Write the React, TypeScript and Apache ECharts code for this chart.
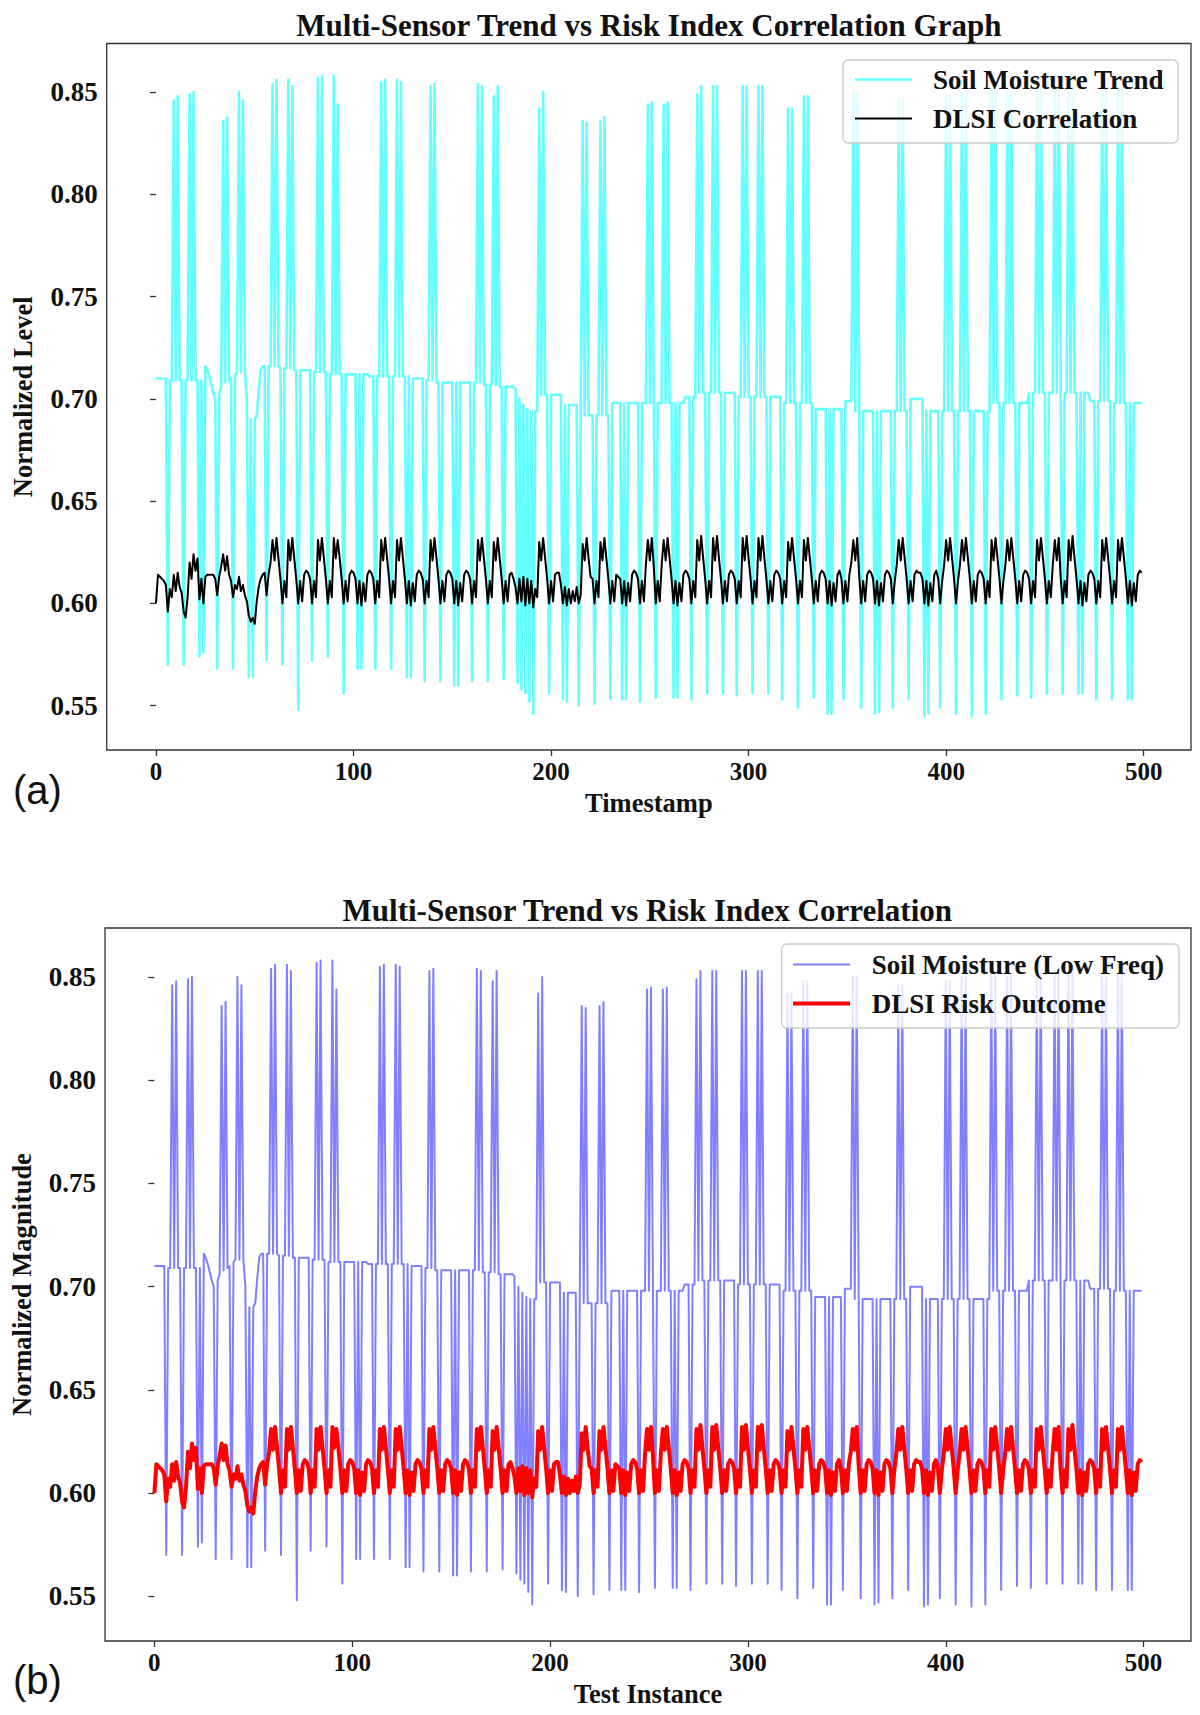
import React, { useEffect, useRef } from "react";
import * as echarts from "echarts";

// Soil moisture readings, one value per sample (0..499)
const soilMoisture: number[] = [
  0.710, 0.710, 0.710, 0.710, 0.710, 0.710, 0.570, 0.709, 0.709, 0.846,
  0.709, 0.848, 0.709, 0.709, 0.570, 0.709, 0.709, 0.849, 0.709, 0.850,
  0.709, 0.709, 0.574, 0.709, 0.576, 0.716, 0.714, 0.711, 0.707, 0.703,
  0.700, 0.568, 0.703, 0.706, 0.836, 0.708, 0.838, 0.709, 0.710, 0.568,
  0.712, 0.713, 0.850, 0.713, 0.846, 0.713, 0.700, 0.564, 0.690, 0.564,
  0.690, 0.692, 0.704, 0.714, 0.716, 0.716, 0.572, 0.716, 0.716, 0.854,
  0.716, 0.856, 0.716, 0.715, 0.570, 0.715, 0.715, 0.856, 0.715, 0.853,
  0.714, 0.714, 0.548, 0.714, 0.714, 0.714, 0.714, 0.714, 0.714, 0.572,
  0.713, 0.713, 0.857, 0.713, 0.858, 0.713, 0.713, 0.574, 0.712, 0.712,
  0.858, 0.712, 0.844, 0.712, 0.712, 0.556, 0.712, 0.712, 0.712, 0.712,
  0.712, 0.712, 0.568, 0.712, 0.568, 0.712, 0.712, 0.712, 0.711, 0.711,
  0.711, 0.568, 0.711, 0.711, 0.855, 0.711, 0.856, 0.711, 0.711, 0.568,
  0.711, 0.711, 0.856, 0.711, 0.855, 0.711, 0.711, 0.564, 0.711, 0.564,
  0.710, 0.710, 0.710, 0.710, 0.710, 0.710, 0.562, 0.709, 0.709, 0.853,
  0.709, 0.854, 0.708, 0.708, 0.562, 0.708, 0.708, 0.708, 0.708, 0.708,
  0.708, 0.560, 0.708, 0.560, 0.708, 0.708, 0.708, 0.708, 0.708, 0.708,
  0.562, 0.708, 0.708, 0.854, 0.708, 0.853, 0.707, 0.707, 0.562, 0.707,
  0.707, 0.848, 0.707, 0.853, 0.706, 0.706, 0.563, 0.706, 0.706, 0.706,
  0.706, 0.706, 0.705, 0.561, 0.700, 0.558, 0.697, 0.556, 0.695, 0.552,
  0.694, 0.546, 0.694, 0.694, 0.842, 0.702, 0.850, 0.702, 0.702, 0.556,
  0.702, 0.702, 0.702, 0.702, 0.702, 0.702, 0.553, 0.697, 0.552, 0.697,
  0.697, 0.697, 0.697, 0.697, 0.550, 0.692, 0.836, 0.692, 0.835, 0.692,
  0.692, 0.692, 0.551, 0.692, 0.692, 0.836, 0.692, 0.838, 0.692, 0.692,
  0.553, 0.698, 0.698, 0.698, 0.698, 0.698, 0.553, 0.698, 0.553, 0.698,
  0.698, 0.698, 0.698, 0.698, 0.698, 0.552, 0.698, 0.698, 0.698, 0.844,
  0.698, 0.845, 0.698, 0.554, 0.698, 0.698, 0.698, 0.844, 0.698, 0.845,
  0.698, 0.698, 0.554, 0.698, 0.554, 0.698, 0.698, 0.698, 0.701, 0.701,
  0.701, 0.553, 0.701, 0.701, 0.849, 0.703, 0.853, 0.703, 0.703, 0.556,
  0.703, 0.703, 0.853, 0.703, 0.853, 0.703, 0.703, 0.556, 0.703, 0.703,
  0.703, 0.703, 0.703, 0.703, 0.555, 0.701, 0.701, 0.853, 0.701, 0.853,
  0.701, 0.701, 0.556, 0.701, 0.701, 0.853, 0.701, 0.853, 0.701, 0.701,
  0.556, 0.701, 0.701, 0.701, 0.701, 0.701, 0.701, 0.553, 0.698, 0.698,
  0.842, 0.698, 0.842, 0.698, 0.698, 0.549, 0.698, 0.698, 0.848, 0.698,
  0.848, 0.698, 0.698, 0.554, 0.695, 0.695, 0.695, 0.695, 0.695, 0.695,
  0.546, 0.695, 0.546, 0.695, 0.695, 0.695, 0.695, 0.695, 0.553, 0.699,
  0.699, 0.699, 0.699, 0.850, 0.694, 0.850, 0.694, 0.549, 0.694, 0.694,
  0.694, 0.694, 0.694, 0.694, 0.546, 0.694, 0.547, 0.694, 0.694, 0.694,
  0.694, 0.694, 0.694, 0.549, 0.694, 0.694, 0.846, 0.694, 0.846, 0.694,
  0.694, 0.553, 0.700, 0.700, 0.700, 0.700, 0.700, 0.700, 0.700, 0.545,
  0.694, 0.546, 0.694, 0.694, 0.694, 0.694, 0.694, 0.549, 0.694, 0.694,
  0.848, 0.694, 0.848, 0.694, 0.694, 0.546, 0.694, 0.694, 0.850, 0.694,
  0.850, 0.694, 0.694, 0.545, 0.694, 0.694, 0.694, 0.694, 0.694, 0.694,
  0.546, 0.694, 0.694, 0.852, 0.698, 0.852, 0.698, 0.698, 0.553, 0.698,
  0.698, 0.850, 0.698, 0.850, 0.698, 0.698, 0.555, 0.698, 0.698, 0.698,
  0.698, 0.698, 0.703, 0.554, 0.703, 0.703, 0.852, 0.703, 0.852, 0.703,
  0.703, 0.556, 0.703, 0.703, 0.703, 0.853, 0.703, 0.853, 0.703, 0.556,
  0.703, 0.703, 0.852, 0.703, 0.852, 0.703, 0.703, 0.556, 0.703, 0.556,
  0.703, 0.703, 0.703, 0.699, 0.699, 0.699, 0.553, 0.699, 0.699, 0.850,
  0.699, 0.850, 0.699, 0.699, 0.553, 0.698, 0.698, 0.852, 0.698, 0.852,
  0.698, 0.698, 0.553, 0.698, 0.553, 0.698, 0.698, 0.698, 0.698, 0.698,
];

// DLSI risk index, one value per sample (0..499)
const dlsiIndex: number[] = [
  0.600, 0.614, 0.613, 0.612, 0.611, 0.609, 0.596, 0.607, 0.603, 0.614,
  0.606, 0.615, 0.608, 0.605, 0.596, 0.593, 0.603, 0.620, 0.612, 0.624,
  0.616, 0.622, 0.602, 0.612, 0.600, 0.613, 0.614, 0.614, 0.614, 0.614,
  0.612, 0.604, 0.613, 0.618, 0.624, 0.616, 0.623, 0.614, 0.611, 0.603,
  0.609, 0.607, 0.613, 0.606, 0.609, 0.604, 0.601, 0.594, 0.591, 0.593,
  0.590, 0.601, 0.608, 0.612, 0.614, 0.615, 0.604, 0.614, 0.620, 0.631,
  0.621, 0.632, 0.622, 0.612, 0.600, 0.611, 0.603, 0.631, 0.621, 0.632,
  0.622, 0.612, 0.600, 0.611, 0.601, 0.614, 0.616, 0.615, 0.612, 0.600,
  0.611, 0.603, 0.631, 0.621, 0.632, 0.622, 0.612, 0.600, 0.611, 0.603,
  0.632, 0.622, 0.631, 0.622, 0.612, 0.600, 0.611, 0.601, 0.614, 0.616,
  0.615, 0.612, 0.600, 0.611, 0.599, 0.610, 0.601, 0.614, 0.616, 0.615,
  0.612, 0.600, 0.611, 0.603, 0.631, 0.621, 0.632, 0.622, 0.612, 0.600,
  0.611, 0.603, 0.631, 0.621, 0.632, 0.622, 0.612, 0.600, 0.611, 0.599,
  0.610, 0.601, 0.614, 0.616, 0.615, 0.612, 0.600, 0.611, 0.603, 0.631,
  0.621, 0.632, 0.622, 0.612, 0.600, 0.611, 0.601, 0.614, 0.616, 0.615,
  0.612, 0.600, 0.611, 0.599, 0.610, 0.601, 0.614, 0.616, 0.615, 0.612,
  0.600, 0.611, 0.603, 0.631, 0.621, 0.632, 0.622, 0.612, 0.600, 0.611,
  0.603, 0.630, 0.621, 0.632, 0.622, 0.612, 0.600, 0.611, 0.601, 0.614,
  0.615, 0.612, 0.608, 0.600, 0.612, 0.601, 0.613, 0.599, 0.612, 0.600,
  0.611, 0.598, 0.607, 0.603, 0.630, 0.621, 0.632, 0.622, 0.612, 0.600,
  0.611, 0.601, 0.614, 0.615, 0.615, 0.609, 0.600, 0.608, 0.599, 0.607,
  0.600, 0.606, 0.601, 0.608, 0.600, 0.604, 0.629, 0.621, 0.632, 0.622,
  0.613, 0.612, 0.600, 0.611, 0.603, 0.630, 0.621, 0.632, 0.622, 0.612,
  0.600, 0.611, 0.601, 0.614, 0.613, 0.612, 0.600, 0.611, 0.599, 0.610,
  0.601, 0.614, 0.616, 0.615, 0.612, 0.600, 0.611, 0.601, 0.619, 0.631,
  0.621, 0.632, 0.618, 0.600, 0.611, 0.601, 0.619, 0.631, 0.621, 0.632,
  0.622, 0.612, 0.600, 0.611, 0.599, 0.610, 0.601, 0.614, 0.616, 0.615,
  0.612, 0.600, 0.611, 0.603, 0.631, 0.621, 0.633, 0.622, 0.612, 0.600,
  0.611, 0.603, 0.632, 0.621, 0.633, 0.622, 0.612, 0.600, 0.611, 0.601,
  0.614, 0.616, 0.615, 0.612, 0.600, 0.611, 0.603, 0.632, 0.621, 0.633,
  0.622, 0.612, 0.600, 0.611, 0.603, 0.632, 0.621, 0.633, 0.622, 0.612,
  0.600, 0.611, 0.601, 0.614, 0.616, 0.615, 0.612, 0.600, 0.611, 0.603,
  0.630, 0.621, 0.632, 0.622, 0.612, 0.600, 0.611, 0.603, 0.631, 0.621,
  0.632, 0.622, 0.612, 0.600, 0.611, 0.601, 0.614, 0.616, 0.615, 0.612,
  0.600, 0.611, 0.599, 0.610, 0.601, 0.614, 0.616, 0.612, 0.600, 0.611,
  0.601, 0.614, 0.620, 0.631, 0.621, 0.632, 0.613, 0.600, 0.611, 0.601,
  0.614, 0.616, 0.615, 0.612, 0.600, 0.611, 0.599, 0.610, 0.601, 0.614,
  0.616, 0.615, 0.612, 0.600, 0.611, 0.619, 0.631, 0.621, 0.632, 0.622,
  0.612, 0.600, 0.611, 0.601, 0.614, 0.616, 0.615, 0.615, 0.612, 0.600,
  0.611, 0.599, 0.610, 0.601, 0.614, 0.616, 0.612, 0.600, 0.611, 0.619,
  0.631, 0.621, 0.632, 0.622, 0.612, 0.600, 0.611, 0.619, 0.631, 0.621,
  0.632, 0.622, 0.612, 0.600, 0.611, 0.601, 0.614, 0.616, 0.615, 0.612,
  0.600, 0.611, 0.603, 0.631, 0.621, 0.632, 0.622, 0.612, 0.600, 0.611,
  0.619, 0.631, 0.621, 0.632, 0.622, 0.612, 0.600, 0.611, 0.601, 0.614,
  0.616, 0.615, 0.612, 0.600, 0.611, 0.603, 0.631, 0.621, 0.632, 0.622,
  0.612, 0.600, 0.611, 0.603, 0.619, 0.631, 0.621, 0.632, 0.612, 0.600,
  0.611, 0.603, 0.631, 0.621, 0.633, 0.622, 0.612, 0.600, 0.611, 0.599,
  0.610, 0.601, 0.614, 0.616, 0.615, 0.612, 0.600, 0.611, 0.603, 0.631,
  0.621, 0.632, 0.622, 0.612, 0.600, 0.611, 0.603, 0.631, 0.621, 0.632,
  0.622, 0.612, 0.600, 0.611, 0.599, 0.610, 0.601, 0.614, 0.616, 0.615,
];

const xTicks: number[] = [0, 100, 200, 300, 400, 500];
const yTicks: number[] = [0.55, 0.6, 0.65, 0.7, 0.75, 0.8, 0.85];

const panelTitles: string[] = [
  "Multi-Sensor Trend vs Risk Index Correlation Graph",
  "Multi-Sensor Trend vs Risk Index Correlation",
];
const xAxisNames: string[] = ["Timestamp", "Test Instance"];
const yAxisNames: string[] = ["Normalized Level", "Normalized Magnitude"];
const soilNames: string[] = ["Soil Moisture Trend", "Soil Moisture (Low Freq)"];
const dlsiNames: string[] = ["DLSI Correlation", "DLSI Risk Outcome"];
const panelTags: string[] = ["(a)", "(b)"];

const SERIF = '"Liberation Serif", "Times New Roman", Times, serif';
const SANS = '"Liberation Sans", Arial, Helvetica, sans-serif';
const INK = "#111111";
const FRAME = "#333333";

const X_MIN = -24.95;
const X_MAX = 523.95;
const Y_MIN = 0.5283;
const Y_MAX = 0.8738;

// layout of the two stacked panels
const panels = [
  {
    grid: { left: 106.7, top: 43.5, width: 1084.3, height: 706.5 },
    titleY: 25,
    tagY: 790,
    soilColor: "rgba(0, 255, 255, 0.6)",
    soilKey: "#66ffff",
    soilWidth: 2.6,
    dlsiColor: "#000000",
    dlsiWidth: 2,
    legend: { x: 843, y: 60, w: 335, h: 83, lineX1: 855, lineX2: 912, row1: 79.5, row2: 118.5, textX: 933 },
  },
  {
    grid: { left: 103.5, top: 928, width: 1087.5, height: 713 },
    titleY: 910,
    tagY: 1680,
    soilColor: "rgba(0, 0, 255, 0.5)",
    soilKey: "#8080ff",
    soilWidth: 2,
    dlsiColor: "#ff0000",
    dlsiWidth: 4,
    legend: { x: 781.7, y: 944, w: 397.3, h: 84, lineX1: 793, lineX2: 850, row1: 964.5, row2: 1003.5, textX: 871.7 },
  },
];

function buildOption() {
  const sampleIndex = soilMoisture.map((_, i) => i);
  const soilPoints = sampleIndex.map((i) => [i, soilMoisture[i]]);
  const dlsiPoints = sampleIndex.map((i) => [i, dlsiIndex[i]]);

  const graphic: any[] = [];
  panels.forEach((p, k) => {
    const g = p.grid;
    graphic.push({
      type: "text",
      x: g.left + g.width / 2,
      y: p.titleY,
      z: 100,
      style: {
        text: panelTitles[k],
        fontFamily: SERIF,
        fontWeight: "bold",
        fontSize: 31,
        fill: INK,
        align: "center",
        verticalAlign: "middle",
      },
    });
    graphic.push({
      type: "text",
      x: 13,
      y: p.tagY,
      z: 100,
      style: {
        text: panelTags[k],
        fontFamily: SANS,
        fontSize: 40,
        fill: INK,
        align: "left",
        verticalAlign: "middle",
      },
    });
    const L = p.legend;
    graphic.push({
      type: "rect",
      z: 100,
      shape: { x: L.x, y: L.y, width: L.w, height: L.h, r: 5 },
      style: { fill: "rgba(255,255,255,0.8)", stroke: "#cccccc", lineWidth: 1.3 },
    });
    graphic.push({
      type: "line",
      z: 101,
      shape: { x1: L.lineX1, y1: L.row1, x2: L.lineX2, y2: L.row1 },
      style: { stroke: p.soilKey, lineWidth: p.soilWidth },
    });
    graphic.push({
      type: "line",
      z: 101,
      shape: { x1: L.lineX1, y1: L.row2, x2: L.lineX2, y2: L.row2 },
      style: { stroke: p.dlsiColor, lineWidth: p.dlsiWidth },
    });
    [soilNames[k], dlsiNames[k]].forEach((t, j) => {
      graphic.push({
        type: "text",
        x: L.textX,
        y: j === 0 ? L.row1 : L.row2,
        z: 101,
        style: {
          text: t,
          fontFamily: SERIF,
          fontWeight: "bold",
          fontSize: 27,
          fill: INK,
          align: "left",
          verticalAlign: "middle",
        },
      });
    });
  });

  return {
    animation: false,
    backgroundColor: "#ffffff",
    grid: panels.map((p) => ({
      ...p.grid,
      show: true,
      borderColor: FRAME,
      borderWidth: 1.3,
      backgroundColor: "transparent",
    })),
    xAxis: panels.map((_, k) => ({
      type: "value",
      gridIndex: k,
      min: X_MIN,
      max: X_MAX,
      axisLine: { show: false },
      splitLine: { show: false },
      axisTick: {
        show: true,
        inside: false,
        length: 6,
        customValues: xTicks,
        lineStyle: { color: FRAME, width: 1.3 },
      },
      axisLabel: {
        customValues: xTicks,
        formatter: (v: number) => String(Math.round(v)),
        fontFamily: SERIF,
        fontWeight: "bold",
        fontSize: 25,
        color: INK,
        margin: 9,
      },
      name: xAxisNames[k],
      nameLocation: "middle",
      nameGap: 39,
      nameTextStyle: { fontFamily: SERIF, fontWeight: "bold", fontSize: 26.5, color: INK },
    })),
    yAxis: panels.map((_, k) => ({
      type: "value",
      gridIndex: k,
      min: Y_MIN,
      max: Y_MAX,
      axisLine: { show: false },
      splitLine: { show: false },
      axisTick: {
        show: true,
        inside: false,
        length: 6,
        customValues: yTicks,
        lineStyle: { color: FRAME, width: 1.3 },
      },
      axisLabel: {
        customValues: yTicks,
        formatter: (v: number) => v.toFixed(2),
        fontFamily: SERIF,
        fontWeight: "bold",
        fontSize: 27,
        color: INK,
        margin: 9,
      },
      name: yAxisNames[k],
      nameLocation: "middle",
      nameRotate: 90,
      nameGap: 70,
      nameTextStyle: { fontFamily: SERIF, fontWeight: "bold", fontSize: 26.5, color: INK },
    })),
    series: panels.flatMap((p, k) => [
      {
        type: "line",
        name: soilNames[k],
        xAxisIndex: k,
        yAxisIndex: k,
        data: soilPoints,
        showSymbol: false,
        symbol: "none",
        z: 2,
        lineStyle: { color: p.soilColor, width: p.soilWidth, join: "round" },
      },
      {
        type: "line",
        name: dlsiNames[k],
        xAxisIndex: k,
        yAxisIndex: k,
        data: dlsiPoints,
        showSymbol: false,
        symbol: "none",
        z: 3,
        lineStyle: { color: p.dlsiColor, width: p.dlsiWidth, join: "round" },
      },
    ]),
    graphic,
  };
}

export default function App() {
  const ref = useRef<HTMLDivElement | null>(null);

  useEffect(() => {
    if (!ref.current) return;
    const chart = echarts.init(ref.current, undefined, { renderer: "svg" });
    chart.setOption(buildOption() as any);
    return () => chart.dispose();
  }, []);

  return (
    <div
      ref={ref}
      style={{ position: "absolute", left: 0, top: 0, width: 1200, height: 1715, background: "#ffffff" }}
    />
  );
}
